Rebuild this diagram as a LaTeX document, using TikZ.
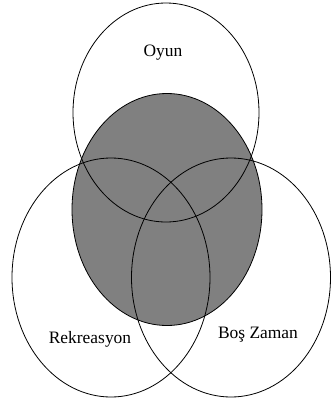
\documentclass[tikz,border=0pt]{standalone}
\usepackage{fontspec}
\setmainfont{Liberation Serif}
\usetikzlibrary{positioning}
\definecolor{VennGray}{HTML}{808080}

\begin{document}
\begin{tikzpicture}[x=1bp,y=-1bp,
    every node/.style={font=\fontsize{17.5}{20}\selectfont},
    ring/.style={draw=black,line width=0.8bp},
    core/.style={fill=VennGray,draw=black,line width=0.8bp}]
    \useasboundingbox (0,0) rectangle (332,401);
    % kesisim alani
    \draw[core] (167,209.5) ellipse [x radius=95,y radius=116];
    % kumeler
    \draw[ring] (166,112.5) ellipse [x radius=93,y radius=109.5];
    \draw[ring] (111,277.5) ellipse [x radius=99,y radius=119.5];
    \draw[ring] (231,277.5) ellipse [x radius=99.5,y radius=119.5];
    \node (oyun) at (163,53) {Oyun};
    \node (rekreasyon) at (90,339) {Rekreasyon};
    \node (bos) at (258,335) {Boş Zaman};
\end{tikzpicture}
\end{document}
